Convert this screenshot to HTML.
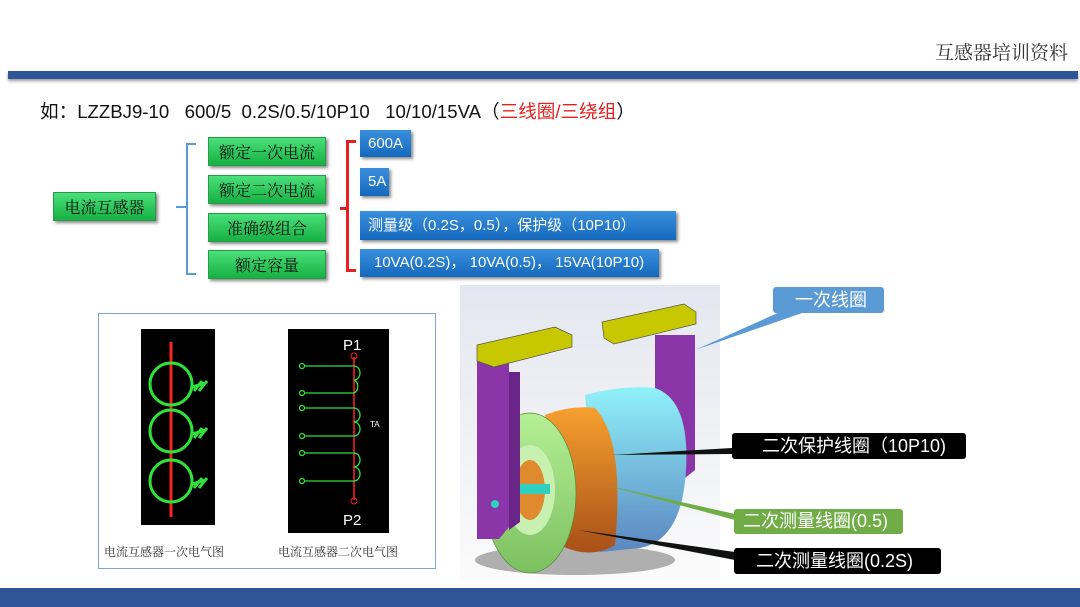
<!DOCTYPE html>
<html><head><meta charset="utf-8"><style>
body{margin:0;width:1080px;height:607px;background:#fff;position:relative;overflow:hidden;font-family:"Liberation Sans","Noto Sans CJK SC",sans-serif}
.a{position:absolute}
.g{position:absolute;background:linear-gradient(#4be07a,#16b043);color:#111;font-family:"Noto Serif CJK SC","Liberation Serif",serif;font-size:16px;text-align:center;box-shadow:2px 2px 3px #888;border:1px solid #2a9a4a;box-sizing:border-box}
.b{position:absolute;background:linear-gradient(#3a8fdc,#1469bd);color:#fff;font-size:15px;box-shadow:2px 2px 3px #888;box-sizing:border-box;padding-left:8px}
.lab{position:absolute;font-size:18px;box-sizing:border-box;border-radius:3px;white-space:nowrap}
</style></head><body>
<div class="a" style="right:12px;top:38px;font-size:19px;color:#333;font-family:'Noto Serif CJK SC',serif">互感器培训资料</div>
<div class="a" style="left:8px;top:71px;width:1070px;height:8px;background:#2e5597;box-shadow:0 2px 3px #999"></div>
<div class="a" style="left:0;top:588px;width:1080px;height:19px;background:#2e5597"></div>

<div class="a" style="left:40px;top:97px;font-size:18.6px;color:#111;white-space:pre">如：LZZBJ9-10   600/5  0.2S/0.5/10P10   10/10/15VA（<span style="color:#e52020">三线圈/三绕组</span>）</div>

<div class="g" style="left:53px;top:192px;width:103px;height:29px;line-height:27px">电流互感器</div>
<div class="a" style="left:176px;top:206px;width:10px;height:2px;background:#5b9bd5"></div>
<div class="a" style="left:186px;top:143px;width:8px;height:128px;border:2px solid #5b9bd5;border-right:none"></div>
<div class="g" style="left:208px;top:137px;width:118px;height:29px;line-height:27px">额定一次电流</div>
<div class="g" style="left:208px;top:175px;width:118px;height:29px;line-height:27px">额定二次电流</div>
<div class="g" style="left:208px;top:213px;width:118px;height:29px;line-height:27px">准确级组合</div>
<div class="g" style="left:208px;top:250px;width:118px;height:29px;line-height:27px">额定容量</div>
<div class="a" style="left:340px;top:207px;width:8px;height:3px;background:#e52020"></div>
<div class="a" style="left:346px;top:140px;width:7px;height:126px;border:3px solid #e52020;border-right:none"></div>
<div class="b" style="left:360px;top:130px;width:51px;height:27px;line-height:27px">600A</div>
<div class="b" style="left:360px;top:168px;width:29px;height:28px;line-height:28px">5A</div>
<div class="b" style="left:360px;top:211px;width:316px;height:29px;line-height:29px">测量级（0.2S，0.5），保护级（10P10）</div>
<div class="b" style="left:360px;top:249px;width:299px;height:28px;line-height:28px;padding-left:14px">10VA(0.2S)， 10VA(0.5)， 15VA(10P10)</div>

<div class="a" style="left:98px;top:313px;width:336px;height:254px;border:1px solid #7da7d9"></div>
<svg class="a" style="left:0;top:0" width="1080" height="607">
<rect x="141" y="329" width="74" height="196" fill="#000"/>
<line x1="171" y1="342" x2="171" y2="517" stroke="#f22" stroke-width="3"/>
<g fill="none" stroke="#2ee23a" stroke-width="3">
<circle cx="171" cy="384" r="21"/><circle cx="171" cy="431" r="21"/><circle cx="171" cy="481" r="21"/>
<path d="M192 387l14-4M194 391l8-10M199 391l8-10M192 434l14-4M194 438l8-10M199 438l8-10M192 484l14-4M194 488l8-10M199 488l8-10"/>
</g>
<rect x="288" y="329" width="101" height="204" fill="#000"/>
<text x="343" y="350" fill="#fff" font-size="15">P1</text>
<text x="343" y="525" fill="#fff" font-size="15">P2</text>
<text x="370" y="427" fill="#fff" font-size="8">TA</text>
<line x1="354" y1="357" x2="354" y2="500" stroke="#f22" stroke-width="1.5"/>
<circle cx="354" cy="356" r="3" fill="none" stroke="#f22"/><circle cx="354" cy="501" r="3" fill="none" stroke="#f22"/>
<g fill="none" stroke="#2ee23a" stroke-width="1.3">
<path d="M304 366H354M304 393H354M304 408H354M304 436H354M304 453H354M304 481H354"/>
<path d="M354 366a6 7 0 0 1 0 14a6 7 0 0 1 0 13M354 408a6 7 0 0 1 0 14a6 7 0 0 1 0 14M354 453a6 7 0 0 1 0 14a6 7 0 0 1 0 14"/>
<circle cx="302" cy="366" r="2.5"/><circle cx="302" cy="393" r="2.5"/><circle cx="302" cy="408" r="2.5"/><circle cx="302" cy="436" r="2.5"/><circle cx="302" cy="453" r="2.5"/><circle cx="302" cy="481" r="2.5"/>
</g>
<text x="104" y="556" font-size="12" fill="#333" font-family="Noto Serif CJK SC">电流互感器一次电气图</text>
<text x="278" y="556" font-size="12" fill="#333" font-family="Noto Serif CJK SC">电流互感器二次电气图</text>

<defs><linearGradient id="bg" x1="0" y1="0" x2="0" y2="1"><stop offset="0" stop-color="#e4e7ef"/><stop offset="1" stop-color="#fbfbfb"/></linearGradient>
<linearGradient id="cy" x1="0" y1="0" x2="0" y2="1"><stop offset="0" stop-color="#90f2fa"/><stop offset="1" stop-color="#5a86c0"/></linearGradient>
<linearGradient id="or" x1="0" y1="0" x2="0" y2="1"><stop offset="0" stop-color="#f7a030"/><stop offset="1" stop-color="#a85018"/></linearGradient>
<linearGradient id="gr" x1="0" y1="0" x2="0" y2="1"><stop offset="0" stop-color="#b5ef95"/><stop offset="1" stop-color="#7cc060"/></linearGradient></defs>
<rect x="460" y="285" width="260" height="295" fill="url(#bg)"/>
<ellipse cx="575" cy="560" rx="100" ry="15" fill="#555" opacity=".45"/>
<path d="M655 335h40v135l-10 8h-30z" fill="#8a35a8"/>
<path d="M602 322l82-18l12 8v12l-82 20l-10-6z" fill="#c8c800" stroke="#555" stroke-width=".7"/>
<path d="M585 395 Q620 385 655 388 Q690 400 686 470 Q682 540 640 548 L600 552z" fill="url(#cy)"/>
<path d="M545 415 Q570 405 595 408 Q625 440 615 545 Q590 560 560 545z" fill="url(#or)"/>
<ellipse cx="530" cy="493" rx="46" ry="80" fill="url(#gr)" stroke="#558833" stroke-width=".7"/>
<ellipse cx="530" cy="490" rx="25" ry="45" fill="#c8f0b0"/>
<ellipse cx="530" cy="490" rx="15" ry="30" fill="#e08a30"/>
<rect x="520" y="484" width="30" height="10" fill="#2fd0c0"/>
<path d="M477 357h32v170l-10 12h-22z" fill="#8a35a8"/><path d="M509 372h11v150l-11 8z" fill="#6a2588"/>
<path d="M477 345l78-18l17 8v12l-78 20l-17-6z" fill="#c8c800" stroke="#555" stroke-width=".7"/>
<circle cx="495" cy="504" r="4" fill="#2fd0c0"/>

<polygon points="780,312 805,312 695,350" fill="#5b9bd5"/>
<polygon points="732,448 732,454 612,455" fill="#111"/>
<polygon points="735,514 735,520 605,485" fill="#70ad47"/>
<polygon points="735,552 735,560 578,530" fill="#111"/>
</svg>
<div class="lab" style="left:773px;top:287px;width:111px;height:26px;line-height:26px;background:#5b9bd5;color:#fff;padding-left:22px">一次线圈</div>
<div class="lab" style="left:732px;top:433px;width:234px;height:26px;line-height:26px;background:#000;color:#fff;padding-left:30px">二次保护线圈（10P10)</div>
<div class="lab" style="left:734px;top:509px;width:169px;height:25px;line-height:25px;background:#70ad47;color:#fff;padding-left:9px">二次测量线圈(0.5)</div>
<div class="lab" style="left:734px;top:548px;width:207px;height:26px;line-height:26px;background:#000;color:#fff;padding-left:22px">二次测量线圈(0.2S)</div>
</body></html>
